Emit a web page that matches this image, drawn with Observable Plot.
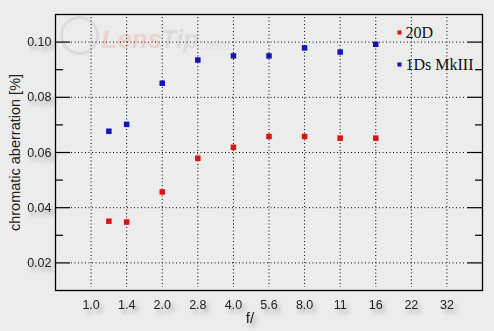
<!DOCTYPE html>
<html>
<head>
<meta charset="utf-8">
<script src="https://cdn.jsdelivr.net/npm/d3@7"></script>
<script src="https://cdn.jsdelivr.net/npm/@observablehq/plot@0.6"></script>
<style>
  html, body { margin: 0; padding: 0; background: #ececec; }
  #chart { width: 494px; height: 331px; overflow: hidden; }
  svg g[aria-label="y-axis tick label"], svg g[aria-label="x-axis tick label"], svg .shadowed {
    filter: drop-shadow(3px 4px 2px rgba(0,0,0,0.3));
  }
</style>
</head>
<body>
<div id="chart"></div>
<script>
// f-stop tick labels (evenly spaced, one stop apart)
const fTicks = ["1.0","1.4","2.0","2.8","4.0","5.6","8.0","11","16","22","32"];
// measured apertures
const apertures = ["1.2","1.4","2.0","2.8","4.0","5.6","8.0","11","16"];
// chromatic aberration [%]
const ca20D = [0.0351,0.0348,0.0457,0.0579,0.0619,0.0658,0.0658,0.0652,0.0652];
const ca1Ds = [0.0677,0.0702,0.0851,0.0935,0.0950,0.0950,0.0979,0.0964,0.0992];
const seriesNames = ["20D","1Ds MkIII"];
const seriesColors = ["#d81414","#1414b8"];
const yMajor = [0.02,0.04,0.06,0.08,0.10];
const yMinor = [0.03,0.05,0.07,0.09];
const yLabel = "chromatic aberration [%]";
const xLabel = "f/";

// f-number -> stop index (half-stop resolution), f/1.0 = 0
const stop = f => Math.round(4 * Math.log2(+f)) / 2;
const tickStops = fTicks.map(stop);

const data = [];
apertures.forEach((a, i) => {
  data.push({series: seriesNames[0], x: stop(a), y: ca20D[i]});
  data.push({series: seriesNames[1], x: stop(a), y: ca1Ds[i]});
});

const W = 494, H = 331, mL = 55, mR = 12, mT = 14, mB = 41;
const fw = W - mL - mR;

const font = "'Liberation Sans', Arial, sans-serif";
const serif = "'Liberation Serif', 'Times New Roman', serif";

const legendMarks = seriesNames.flatMap((name, i) => [
  Plot.dot([name], {frameAnchor: "top-right", dx: -83, dy: 18 + 32 * i, fill: d => d, symbol: "square", r: 2.3}),
  Plot.text([name], {frameAnchor: "top-right", dx: -77, dy: 18 + 32 * i, textAnchor: "start", lineAnchor: "middle", fontFamily: serif, fontSize: 16, fill: "#111"})
]);

const chart = Plot.plot({
  width: W, height: H,
  marginLeft: mL, marginRight: mR, marginTop: mT, marginBottom: mB,
  style: {background: "transparent", fontFamily: font, fontSize: "12px", color: "#222"},
  x: {domain: [-1, 11], axis: null},
  y: {domain: [0.01, 0.11], axis: null},
  color: {domain: seriesNames, range: seriesColors},
  marks: [
    // watermark
    Plot.dot([0], {frameAnchor: "top-left", dx: 24, dy: 21, r: 18, stroke: "#dcdcdc", strokeWidth: 3, fill: "none"}),
    Plot.text(["Lens"], {frameAnchor: "top-left", dx: 46, dy: 25, textAnchor: "start", lineAnchor: "middle", fill: "#efd2ce", fontSize: 26, fontWeight: "bold", fontStyle: "italic"}),
    Plot.text(["Tip"], {frameAnchor: "top-left", dx: 105, dy: 25, textAnchor: "start", lineAnchor: "middle", fill: "#dcdcdc", fontSize: 26, fontWeight: "bold", fontStyle: "italic"}),
    Plot.text([".com"], {frameAnchor: "top-left", dx: 146, dy: 31, textAnchor: "start", lineAnchor: "middle", fill: "#e0e0e0", fontSize: 13, fontStyle: "italic"}),
    // grid
    Plot.ruleX(tickStops, {x: d => d, stroke: "#000", strokeWidth: 1, strokeDasharray: "1,2.5", insetTop: 3, insetBottom: 3}),
    Plot.tickY(yMajor, {y: d => d, stroke: "#000", strokeWidth: 1, strokeDasharray: "1,2.5", insetLeft: 16, insetRight: 16}),
    // inward ticks left & right
    Plot.tickY(yMajor, {y: d => d, stroke: "#000", strokeWidth: 1.2, insetRight: fw - 15}),
    Plot.tickY(yMinor, {y: d => d, stroke: "#000", strokeWidth: 1.2, insetRight: fw - 8}),
    Plot.tickY(yMajor, {y: d => d, stroke: "#000", strokeWidth: 1.2, insetLeft: fw - 15}),
    Plot.tickY(yMinor, {y: d => d, stroke: "#000", strokeWidth: 1.2, insetLeft: fw - 7}),
    Plot.frame({stroke: "#000", strokeWidth: 1.3}),
    // axes labels
    Plot.axisY({ticks: yMajor, tickSize: 0, tickPadding: 4, tickFormat: d3.format(".2f"), fontSize: 12.5, fill: "#222", label: null}),
    Plot.axisX({ticks: tickStops, tickSize: 0, tickPadding: 10, tickFormat: (d, i) => fTicks[i], fontSize: 12.5, fill: "#222", label: null}),
    Plot.text([yLabel], {frameAnchor: "left", dx: -40, rotate: -90, textAnchor: "middle", lineAnchor: "middle", fontSize: 14.5, fill: "#222"}),
    Plot.text([xLabel], {frameAnchor: "bottom", dx: -19, dy: 28, textAnchor: "middle", lineAnchor: "middle", fontSize: 15, fill: "#222", className: "shadowed"}),
    // data
    Plot.dot(data, {x: "x", y: "y", fill: "series", symbol: "square", r: 3.1}),
    // legend
    ...legendMarks
  ]
});
document.getElementById("chart").appendChild(chart);
</script>
</body>
</html>
